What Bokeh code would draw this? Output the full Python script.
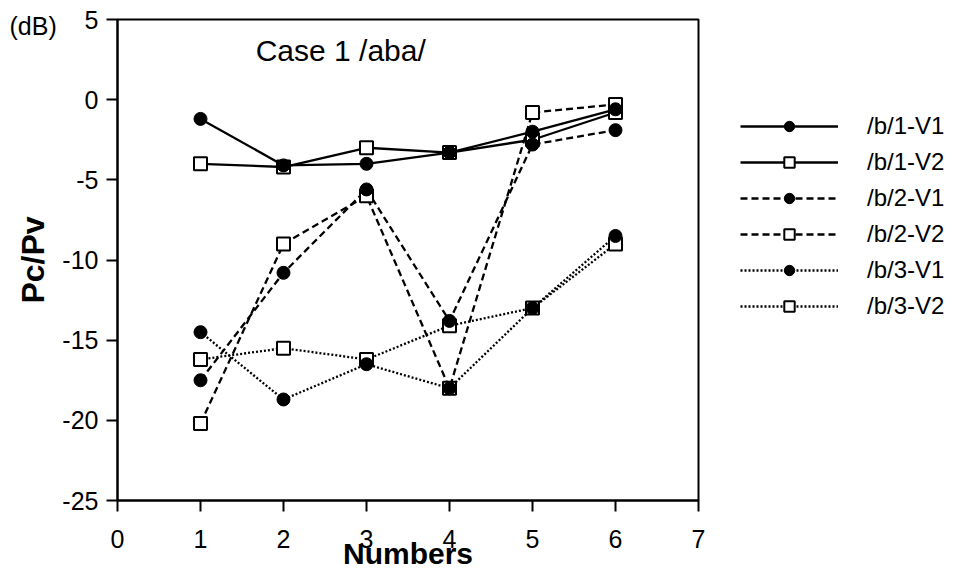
from bokeh.plotting import figure
from bokeh.models import Label, Legend, LegendItem, FixedTicker, Title
from bokeh.embed import file_html
from bokeh.resources import INLINE

numbers = [1, 2, 3, 4, 5, 6]
b1_v1 = [-1.2, -4.1, -4.0, -3.3, -2.0, -0.6]
b1_v2 = [-4.0, -4.2, -3.0, -3.3, -2.5, -0.8]
b2_v1 = [-17.5, -10.8, -5.6, -13.8, -2.8, -1.9]
b2_v2 = [-20.2, -9.0, -6.0, -18.0, -0.8, -0.3]
b3_v1 = [-14.5, -18.7, -16.5, -18.0, -13.0, -8.5]
b3_v2 = [-16.2, -15.5, -16.2, -14.1, -13.0, -9.0]
x_ticks = [0, 1, 2, 3, 4, 5, 6, 7]
y_ticks = [-25, -20, -15, -10, -5, 0, 5]

FONT = "Liberation Sans"

p = figure(frame_width=581, frame_height=481, x_range=(0, 7), y_range=(-25, 5),
           output_backend="svg", toolbar_location=None,
           min_border_left=117, min_border_top=19, min_border_right=259, min_border_bottom=74)
p.background_fill_color = "white"
p.border_fill_color = "white"
p.outline_line_color = "black"
p.outline_line_width = 2
p.xgrid.visible = False
p.ygrid.visible = False

for ax, ticks in ((p.xaxis[0], x_ticks), (p.yaxis[0], y_ticks)):
    ax.ticker = FixedTicker(ticks=ticks)
    ax.major_label_overrides = {t: str(t) for t in ticks}
    ax.axis_line_width = 2
    ax.axis_line_color = "black"
    ax.major_tick_line_width = 2
    ax.major_tick_line_color = "black"
    ax.major_tick_out = 11
    ax.major_tick_in = 0
    ax.minor_tick_line_color = None
    ax.major_label_text_font = FONT
    ax.major_label_text_font_size = "25px"
    ax.major_label_text_color = "black"
    ax.axis_label_text_font = FONT
    ax.axis_label_text_font_style = "bold"
    ax.axis_label_text_color = "black"
p.xaxis.major_label_standoff = 18
p.yaxis.major_label_standoff = 8

p.xaxis.axis_label = "Numbers"
p.xaxis.axis_label_text_font_size = "30px"
p.xaxis.axis_label_standoff = -14
p.yaxis.axis_label = "Pc/Pv"
p.yaxis.axis_label_text_font_size = "32px"
p.yaxis.axis_label_standoff = 8

series = [
    ("/b/1-V1", b1_v1, "solid", "circle"),
    ("/b/1-V2", b1_v2, "solid", "square"),
    ("/b/2-V1", b2_v1, "7 4", "circle"),
    ("/b/2-V2", b2_v2, "7 4", "square"),
    ("/b/3-V1", b3_v1, "2 2", "circle"),
    ("/b/3-V2", b3_v2, "2 2", "square"),
]

lines = []
for name, ys, dash, marker in series:
    r = p.line(numbers, ys, line_color="black", line_width=2.3, line_dash=dash)
    lines.append(r)

order = [1, 3, 5, 0, 2, 4]
mark_by_idx = {}
for i in order:
    name, ys, dash, marker = series[i]
    if marker == "circle":
        m = p.scatter(numbers, ys, marker="circle", size=13, fill_color="black", line_color="black")
    else:
        m = p.scatter(numbers, ys, marker="square", size=13, fill_color="white",
                      line_color="black", line_width=2)
    mark_by_idx[i] = m

items = [LegendItem(label=series[i][0], renderers=[lines[i], mark_by_idx[i]]) for i in range(6)]
legend = Legend(items=items, location=(42, 180), orientation="vertical",
                glyph_width=98, glyph_height=26, label_height=26, spacing=8, label_standoff=29,
                padding=0, margin=0, border_line_alpha=0, background_fill_alpha=0,
                label_text_font=FONT, label_text_font_size="24px", label_text_color="black")
p.add_layout(legend, "right")

dB = Title(text="(dB)", align="left", offset=-108, standoff=-40, vertical_align="bottom",
           text_font=FONT, text_font_size="25px", text_font_style="normal", text_color="black")
p.add_layout(dB, "above")

p.add_layout(Label(x=2.74, y=3.07, text="Case 1  /aba/", text_font=FONT, text_font_size="30px",
                   text_align="center", text_baseline="middle", text_color="black"))

open("out.html", "w").write(file_html(p, INLINE))
